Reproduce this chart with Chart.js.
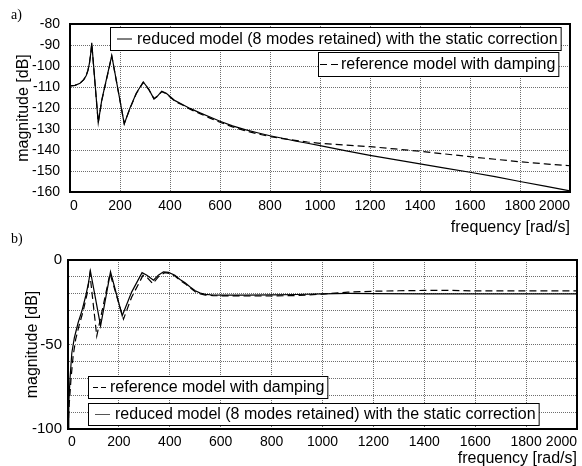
<!DOCTYPE html>
<html>
<head>
<meta charset="utf-8">
<script src="https://cdn.jsdelivr.net/npm/chart.js@4"></script>
<style>
  html, body { margin: 0; padding: 0; background: #fff; }
  body { width: 582px; height: 466px; position: relative; overflow: hidden; }
  canvas { position: absolute; left: 0; }
  #top-chart { top: 0; }
  #bottom-chart { top: 240px; }
  .panel-tag { position: absolute; z-index: 2; font-family: 'Liberation Serif', 'Times New Roman', serif; font-size: 14px; }
</style>
</head>
<body>
<canvas id="top-chart" width="582" height="240"></canvas>
<canvas id="bottom-chart" width="582" height="226"></canvas>
<div class="panel-tag" style="left:11px; top:7px;">a)</div>
<div class="panel-tag" style="left:11px; top:231px;">b)</div>
<script>
// --- a) magnitude, dB (top panel) ---
const topFreq = [0, 20, 40, 55, 65, 72, 78, 83, 87, 113, 127, 167, 217, 240, 265, 293,
    315, 336, 350, 367, 385, 400, 420, 450, 480, 520, 560, 600, 650, 700, 750, 800, 850,
    900, 950, 1000, 1100, 1200, 1300, 1400, 1500, 1600, 1700, 1800, 1900, 2000];
const topReduced = [-109.5, -109.2, -108.2, -106.5, -104.5, -102, -98.5, -94, -89,
    -127, -116.3, -95, -127.6, -120, -113, -107.6, -111, -115.7, -114.3, -112,
    -113, -114.5, -116.5, -118.3, -120.2, -122.3, -124.3, -126.3, -128.5, -130.3,
    -131.8, -133.2, -134.4, -135.7, -136.8, -137.9, -140.3, -142.6, -144.6, -146.6,
    -148.6, -150.6, -152.7, -155, -157.2, -159.5];
const topReference = [-109.5, -109.2, -108.2, -106.5, -104.5, -102, -98.5, -94, -89.5,
    -127, -116.5, -95.3, -127.4, -120.2, -113.2, -107.8, -111.2, -115.5, -114.4, -112.2,
    -113.2, -114.8, -116.8, -118.6, -120.6, -122.7, -124.8, -126.8, -129, -130.8,
    -132.3, -133.6, -134.6, -135.4, -136.2, -136.8, -137.6, -138.4, -139.5, -140.6,
    -141.9, -143.2, -144.4, -145.6, -146.6, -147.5];

// --- b) magnitude, dB (bottom panel) ---
const botReducedFreq = [0, 3, 8, 15, 25, 40, 55, 70, 80, 88, 128, 167, 213, 250, 291,
    310, 336, 355, 375, 395, 420, 440, 460, 480, 500, 520, 540, 570, 600, 700, 800,
    900, 1000, 1100, 1200, 1400, 1600, 1800, 2000];
const botReducedMag = [-100, -85, -70, -55, -46, -37, -30, -21, -14, -6.5, -39, -7, -33,
    -19, -7.5, -9, -12, -9, -7, -7.3, -9, -11.5, -13.5, -16, -18.2, -19.6, -20.3, -20.7,
    -20.8, -20.8, -20.6, -20.4, -20, -19.8, -19.9, -20, -20, -20, -20];
const botRefFreq = [0, 5, 12, 20, 30, 45, 60, 75, 86, 113, 165, 218, 250, 295, 312, 333,
    355, 380, 400, 420, 440, 460, 480, 500, 520, 540, 570, 600, 700, 800, 900, 1000,
    1100, 1200, 1300, 1400, 1500, 1600, 1800, 2000];
const botRefMag = [-100, -85, -70, -57, -47, -38, -30, -20, -8, -45, -8, -35, -22, -9,
    -10.5, -14, -10, -7.5, -8, -9.5, -12, -14, -16.5, -18.8, -20.1, -20.8, -21.1, -21.2,
    -21.3, -21.3, -21, -20.2, -19, -18.5, -18.2, -18, -18, -18.3, -18.3, -18.3];

const LABEL_REDUCED = 'reduced model (8 modes retained) with the static correction';
const LABEL_REFERENCE = 'reference model with damping';
const FONT = '"Liberation Sans", Arial, Helvetica, sans-serif';

Chart.defaults.font.family = FONT;
Chart.defaults.color = '#000';

function toPoints(xs, ys) {
    return xs.map((x, i) => ({ x: x, y: ys[i] }));
}

// frame around the plot + boxed legend entries (one box per entry, like the figure)
const frameAndLegend = {
    id: 'frameAndLegend',
    afterDraw(chart, args, opts) {
        const ctx = chart.ctx;
        const a = chart.chartArea;
        ctx.save();
        ctx.strokeStyle = '#000';
        ctx.lineWidth = 2;
        ctx.setLineDash([]);
        ctx.strokeRect(a.left, a.top, a.right - a.left, a.bottom - a.top);

        ctx.font = '16px ' + FONT;
        ctx.textBaseline = 'middle';
        (opts.items || []).forEach(it => {
            const ds = chart.data.datasets[it.dataset];
            const w = it.textX + ctx.measureText(ds.label).width + 3 - it.x;
            const midY = it.y + it.h / 2;
            ctx.fillStyle = '#fff';
            ctx.fillRect(it.x, it.y, w, it.h);
            ctx.lineWidth = 1;
            ctx.strokeStyle = '#000';
            ctx.setLineDash([]);
            ctx.strokeRect(it.x + 0.5, it.y + 0.5, w, it.h);
            ctx.strokeStyle = it.color || '#000';
            ctx.setLineDash(it.dash || []);
            ctx.beginPath();
            ctx.moveTo(it.x0, midY + 0.5);
            ctx.lineTo(it.x1, midY + 0.5);
            ctx.stroke();
            ctx.setLineDash([]);
            ctx.fillStyle = '#000';
            ctx.fillText(ds.label, it.textX, midY + 1);
        });
        ctx.restore();
    }
};

function makeChart(canvasId, cfg) {
    return new Chart(document.getElementById(canvasId), {
        type: 'line',
        data: { datasets: cfg.datasets },
        options: {
            responsive: false,
            animation: false,
            devicePixelRatio: 1,
            events: [],
            layout: { padding: cfg.padding },
            elements: { point: { radius: 0 }, line: { tension: 0 } },
            scales: {
                x: {
                    type: 'linear',
                    min: 0,
                    max: 2000,
                    ticks: { stepSize: 200, align: 'inner', padding: cfg.xTickPad, font: { size: 14 }, maxRotation: 0, autoSkip: false,
                        callback: v => String(v) },
                    grid: { color: '#6e6e6e', lineWidth: 1, drawTicks: false },
                    border: { display: true, color: '#000', width: 2, dash: [1, 1] },
                    title: { display: true, text: 'frequency [rad/s]', align: 'end', font: { size: 16, lineHeight: 1 }, padding: { top: 0, bottom: cfg.xTitlePad } },
                    afterFit: scale => { scale.height = cfg.xHeight; }
                },
                y: {
                    min: cfg.yMin,
                    max: cfg.yMax,
                    ticks: { stepSize: 10, padding: cfg.yTickPad, font: { size: cfg.yTickSize }, autoSkip: false, callback: cfg.yLabel },
                    grid: { color: '#6e6e6e', lineWidth: 1, drawTicks: false },
                    border: { display: true, color: '#000', width: 2, dash: [1, 1] },
                    title: { display: true, text: 'magnitude [dB]', font: { size: 16, lineHeight: 1 }, padding: { top: cfg.yTitlePad, bottom: 0 } },
                    afterFit: scale => { scale.width = cfg.yWidth; }
                }
            },
            plugins: {
                legend: { display: false },
                tooltip: { enabled: false },
                frameAndLegend: { items: cfg.legend }
            }
        },
        plugins: [frameAndLegend]
    });
}

// a)
makeChart('top-chart', {
    datasets: [
        { label: LABEL_REDUCED, data: toPoints(topFreq, topReduced), borderColor: '#000', borderWidth: 1.2 },
        { label: LABEL_REFERENCE, data: toPoints(topFreq, topReference), borderColor: '#000', borderWidth: 1.2, borderDash: [7, 4] }
    ],
    padding: { left: 0, top: 24, right: 12, bottom: 0 },
    yMin: -160, yMax: -80, yWidth: 70, yTickPad: 10, yTickSize: 14, yTitlePad: 16,
    yLabel: v => String(v),
    xHeight: 48, xTickPad: 6, xTitlePad: 4,
    legend: [
        { dataset: 0, x: 110, y: 27, h: 23, x0: 117, x1: 132, textX: 137 },
        { dataset: 1, x: 318, y: 52, h: 24, x0: 320, x1: 338, textX: 341, dash: [7, 4] }
    ]
});

// b)
makeChart('bottom-chart', {
    datasets: [
        { label: LABEL_REFERENCE, data: toPoints(botRefFreq, botRefMag), borderColor: '#000', borderWidth: 1.2, borderDash: [7, 4] },
        { label: LABEL_REDUCED, data: toPoints(botReducedFreq, botReducedMag), borderColor: '#000', borderWidth: 1.2 }
    ],
    padding: { left: 0, top: 20, right: 5, bottom: 0 },
    yMin: -100, yMax: 0, yWidth: 68, yTickPad: 6, yTickSize: 15, yTitlePad: 25,
    yLabel: v => (v % 50 === 0 ? String(v) : ''),
    xHeight: 37, xTickPad: 5, xTitlePad: -1,
    legend: [
        { dataset: 0, x: 88, y: 136, h: 22, x0: 93, x1: 107, textX: 110, dash: [5, 3] },
        { dataset: 1, x: 88, y: 163, h: 22, x0: 95, x1: 110, textX: 115, color: '#555' }
    ]
});
</script>
</body>
</html>
